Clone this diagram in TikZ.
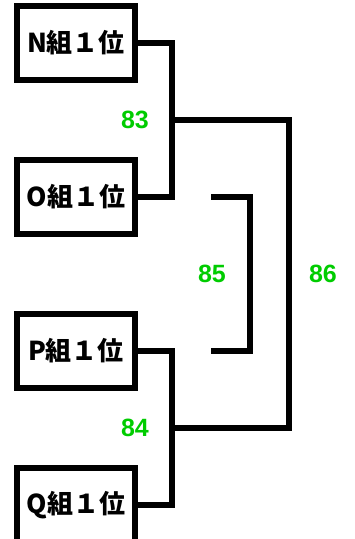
\documentclass[tikz,border=0pt]{standalone}
\usepackage{fontspec}
\newfontfamily\jpfont{Noto Sans CJK JP}
\newfontfamily\numfont{Liberation Sans}
\usetikzlibrary{positioning}
\definecolor{scoregreen}{RGB}{0,204,0}
\tikzset{team/.style={draw,line width=6pt,minimum width=118pt,minimum height=74pt,inner sep=0pt,font=\jpfont\bfseries\fontsize{26}{26}\selectfont},
	score/.style={text=scoregreen,font=\numfont\bfseries\fontsize{25}{25}\selectfont},
	bracket/.style={line width=5.5pt}}

\begin{document}
\begin{tikzpicture}[x=1pt,y=-1pt]
	\useasboundingbox (0,0) rectangle (354,539);
	\node[team] (n) at (76,43) {N組１位};
	\node[team] (o) at (76,197) {O組１位};
	\node[team] (p) at (76,351) {P組１位};
	\node[team] (q) at (76,505) {Q組１位};
	\coordinate (j83) at (172,120);
	\coordinate (j84) at (172,428);
	\coordinate (j86) at (289,274);
	\coordinate (j85) at (250,274);
	\coordinate (s1) at (211,197);
	\coordinate (s2) at (211,351);
	% first round
	\draw[bracket] (n.east) -| (j83) |- (o.east);
	\draw[bracket] (p.east) -| (j84) |- (q.east);
	% final
	\draw[bracket] (j83) -| (j86) |- (j84);
	\draw[bracket] (s1) -| (j85) |- (s2);
	\node[score] (l83) at (135,120) {83};
	\node[score] (l84) at (135,428) {84};
	\node[score] (l85) at (212,274) {85};
	\node[score] (l86) at (323,274) {86};
\end{tikzpicture}
\end{document}
